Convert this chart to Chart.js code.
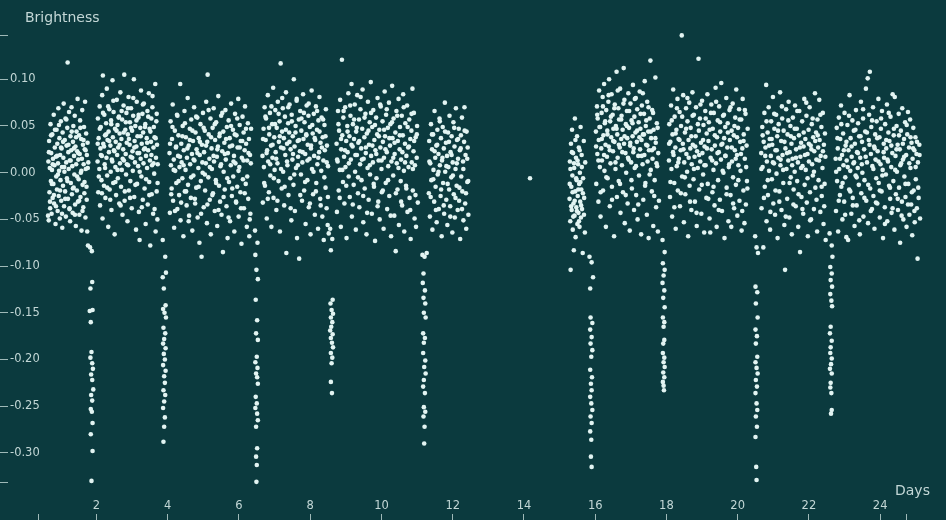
<!DOCTYPE html>
<html><head><meta charset="utf-8">
<script src="https://cdn.jsdelivr.net/npm/chart.js@4"></script>
<style>html,body{margin:0;padding:0;background:#0b3a3e;overflow:hidden}#wrap{width:946px;height:520px;position:relative}</style>
</head><body><div id="wrap"><canvas id="c"></canvas></div>
<script>
// ---- data: [day, brightness] ----
const seg1 = [[0.64,-0.046],[0.65,0.012],[0.66,-0.051],[0.67,0.034],[0.68,-0.021],[0.69,0.005],[0.70,-0.038],[0.71,0.052],[0.72,-0.009],[0.73,0.021],
[0.74,-0.044],[0.75,0.003],[0.76,0.041],[0.77,-0.027],[0.78,0.015],[0.79,-0.012],[0.80,0.062],[0.81,-0.033],[0.82,0.008],[0.83,0.027],
[0.85,-0.055],[0.86,0.017],[0.87,-0.004],[0.88,0.046],[0.89,-0.018],[0.90,0.031],[0.91,-0.041],[0.92,0.010],[0.93,0.069],[0.94,-0.025],
[0.95,0.002],[0.96,0.037],[0.97,-0.049],[0.98,0.019],[0.99,-0.008],[1.00,0.055],[1.01,-0.030],[1.02,0.026],[1.03,0.006],[1.04,-0.059],
[1.05,0.043],[1.06,-0.014],[1.07,0.016],[1.08,0.074],[1.09,-0.036],[1.10,0.001],[1.11,0.035],[1.12,-0.020],[1.13,0.058],[1.14,-0.047],
[1.15,0.011],[1.16,0.029],[1.17,-0.006],[1.18,0.048],[1.19,0.118],[1.20,-0.028],[1.21,0.022],[1.22,0.004],[1.23,0.065],[1.24,-0.039],
[1.25,0.013],[1.26,-0.052],[1.27,0.039],[1.28,-0.011],[1.29,0.024],[1.30,0.070],[1.31,-0.023],[1.32,0.007],[1.33,-0.043],[1.34,0.033],
[1.35,0.050],[1.36,-0.016],[1.37,0.018],[1.38,-0.002],[1.39,0.061],[1.40,-0.034],[1.41,0.028],[1.42,-0.057],[1.43,0.009],[1.44,0.044],
[1.45,-0.019],[1.46,0.023],[1.47,0.079],[1.48,-0.031],[1.49,0.014],[1.50,-0.007],[1.51,0.040],[1.52,-0.045],[1.53,0.020],[1.54,0.056],
[1.55,-0.026],[1.56,0.000],[1.57,0.036],[1.58,-0.062],[1.59,0.015],[1.60,0.067],[1.61,-0.013],[1.62,0.030],[1.63,-0.037],[1.64,0.009],
[1.65,0.049],[1.66,-0.022],[1.67,0.025],[1.68,0.076],[1.69,-0.048],[1.70,0.004],[1.71,0.042],[1.72,-0.015],[1.73,0.019],[1.74,-0.063],
[1.75,0.032],[1.76,-0.078],[1.77,0.011]];
const seg1b = [[0.665,0.022],[0.695,-0.031],[0.725,0.040],[0.748,-0.012],[0.772,0.009],[0.805,-0.024],[0.835,0.046],[0.862,-0.036],[0.894,0.018],[0.918,-0.002],
[0.947,0.051],[0.978,-0.019],[1.005,0.027],[1.033,-0.044],[1.062,0.033],[1.094,0.006],[1.122,-0.028],[1.155,0.057],[1.183,-0.009],[1.214,0.030],
[1.246,-0.038],[1.275,0.013],[1.305,0.044],[1.337,-0.017],[1.366,0.026],[1.395,-0.045],[1.428,0.038],[1.457,-0.004],[1.486,0.021],[1.515,-0.030],
[1.547,0.048],[1.576,0.002],[1.607,-0.041],[1.636,0.035],[1.664,-0.010],[1.695,0.024],[1.726,-0.029],[1.755,0.005]];
const dip1 = [[1.82,-0.080],[1.87,-0.084],[1.88,-0.117],[1.83,-0.124],[1.81,-0.148],[1.89,-0.147],[1.84,-0.160],[1.86,-0.192],[1.83,-0.198],[1.88,-0.204],
[1.90,-0.210],[1.85,-0.216],[1.88,-0.222],[1.91,-0.232],[1.85,-0.238],[1.88,-0.244],[1.84,-0.253],[1.87,-0.256],[1.89,-0.268],[1.84,-0.280],[1.89,-0.298],[1.86,-0.330]];
const seg2 = [[2.03,0.012],[2.04,0.058],[2.05,-0.021],[2.06,0.037],[2.08,0.004],[2.09,0.071],[2.10,-0.035],[2.11,0.026],[2.12,0.049],[2.14,-0.008],
[2.15,0.018],[2.16,0.083],[2.17,-0.049],[2.18,0.104],[2.19,0.031],[2.21,-0.014],[2.22,0.062],[2.23,0.009],[2.24,0.040],[2.25,-0.027],
[2.27,0.053],[2.28,0.016],[2.29,0.090],[2.30,-0.003],[2.31,0.035],[2.33,-0.058],[2.34,0.044],[2.35,0.022],[2.36,0.068],[2.37,-0.018],
[2.39,0.029],[2.40,0.001],[2.41,0.056],[2.42,-0.040],[2.43,0.014],[2.45,0.099],[2.46,0.038],[2.47,-0.011],[2.48,0.065],[2.49,0.024],
[2.51,-0.066],[2.52,0.047],[2.53,0.006],[2.54,0.033],[2.55,-0.024],[2.57,0.078],[2.58,0.019],[2.59,0.051],[2.60,-0.006],[2.61,0.027],
[2.63,0.060],[2.64,-0.033],[2.65,0.042],[2.66,0.010],[2.67,0.086],[2.69,-0.015],[2.70,0.036],[2.71,0.003],[2.72,0.057],[2.73,-0.045],
[2.75,0.025],[2.76,0.072],[2.77,0.013],[2.78,0.105],[2.79,-0.030],[2.81,0.046],[2.82,0.020],[2.83,-0.002],[2.84,0.064],[2.85,0.032],
[2.87,-0.052],[2.88,0.041],[2.89,0.008],[2.90,0.081],[2.91,-0.019],[2.93,0.030],[2.94,0.054],[2.95,-0.009],[2.96,0.017],[2.97,0.069],
[2.99,-0.038],[3.00,0.045],[3.01,0.023],[3.02,0.002],[3.03,0.061],[3.05,0.100],[3.06,-0.026],[3.07,0.034],[3.08,0.011],[3.09,0.050],
[3.11,-0.061],[3.12,0.028],[3.13,0.076],[3.14,-0.012],[3.15,0.039],[3.17,0.007],[3.18,0.059],[3.19,-0.042],[3.20,0.021],[3.21,-0.072],
[3.23,0.048],[3.24,0.015],[3.25,0.088],[3.26,-0.004],[3.27,0.031],[3.29,0.063],[3.30,-0.029],[3.31,0.043],[3.32,0.010],[3.33,0.074],
[3.35,-0.017],[3.36,0.026],[3.37,0.052],[3.38,-0.055],[3.39,0.018],[3.41,0.037],[3.42,0.005],[3.43,0.066],[3.44,-0.034],[3.45,0.024],
[3.47,0.085],[3.48,-0.010],[3.49,0.047],[3.50,0.013],[3.51,-0.078],[3.53,0.033],[3.54,0.058],[3.55,-0.023],[3.56,0.008],[3.57,0.070],
[3.59,-0.044],[3.60,0.027],[3.61,0.049],[3.62,-0.001],[3.63,0.038],[3.65,0.095],[3.66,-0.063],[3.67,0.016],[3.68,0.055],[3.69,-0.020],
[3.70,0.030],[3.71,-0.050],[3.72,0.009]];
const seg2b = [[2.035,0.031],[2.066,-0.004],[2.093,0.047],[2.125,0.019],[2.152,-0.022],[2.184,0.064],[2.213,0.028],[2.242,0.005],[2.271,0.041],[2.302,-0.016],
[2.328,0.071],[2.357,0.034],[2.386,-0.029],[2.415,0.052],[2.444,0.012],[2.473,0.077],[2.502,0.023],[2.531,-0.010],[2.563,0.045],[2.592,0.003],
[2.621,0.059],[2.648,0.030],[2.677,-0.035],[2.706,0.066],[2.735,0.015],[2.764,0.043],[2.795,-0.020],[2.824,0.054],[2.853,0.009],[2.882,0.069],
[2.911,0.036],[2.942,-0.027],[2.971,0.048],[3.004,0.016],[3.033,0.080],[3.062,0.027],[3.091,-0.013],[3.122,0.056],[3.153,0.021],[3.184,0.062],
[3.213,0.001],[3.242,0.039],[3.273,-0.037],[3.302,0.073],[3.333,0.025],[3.362,0.049],[3.393,-0.007],[3.422,0.032],[3.453,0.060],[3.482,-0.024],
[3.513,0.044],[3.542,0.019],[3.573,0.082],[3.602,0.010],[3.631,-0.039],[3.662,0.037],[3.691,0.063],[3.715,-0.011]];
const dip2 = [[3.86,-0.072],[3.93,-0.090],[3.95,-0.107],[3.86,-0.112],[3.89,-0.124],[3.94,-0.142],[3.87,-0.146],[3.91,-0.150],[3.95,-0.155],[3.88,-0.166],
[3.93,-0.172],[3.90,-0.178],[3.87,-0.183],[3.94,-0.188],[3.89,-0.194],[3.92,-0.200],[3.87,-0.206],[3.94,-0.212],[3.90,-0.218],[3.92,-0.225],
[3.88,-0.233],[3.93,-0.238],[3.90,-0.245],[3.87,-0.252],[3.92,-0.262],[3.90,-0.272],[3.88,-0.288]];
const seg3 = [[4.05,0.021],[4.06,-0.043],[4.08,0.055],[4.09,0.008],[4.11,-0.017],[4.12,0.036],[4.14,0.073],[4.15,-0.030],[4.17,0.014],[4.18,-0.059],
[4.20,0.045],[4.21,0.002],[4.23,0.027],[4.24,-0.011],[4.26,0.062],[4.27,-0.039],[4.29,0.018],[4.30,0.040],[4.32,-0.024],[4.33,0.006],
[4.35,0.095],[4.36,-0.051],[4.38,0.031],[4.39,0.011],[4.41,-0.006],[4.42,0.050],[4.44,-0.068],[4.45,0.024],[4.47,0.066],[4.48,-0.020],
[4.50,0.003],[4.51,0.038],[4.53,-0.035],[4.54,0.016],[4.56,0.080],[4.57,-0.013],[4.59,0.029],[4.60,-0.046],[4.62,0.047],[4.63,0.009],
[4.65,-0.027],[4.66,0.057],[4.68,0.020],[4.69,-0.062],[4.71,0.034],[4.72,-0.003],[4.74,0.070],[4.75,0.013],[4.77,-0.033],[4.78,0.043],
[4.80,-0.016],[4.81,0.025],[4.83,0.059],[4.84,-0.048],[4.86,0.005],[4.87,0.037],[4.89,-0.075],[4.90,0.019],[4.92,0.052],[4.93,-0.009],
[4.95,-0.090],[4.96,0.030],[4.98,0.000],[4.99,0.064],[5.01,-0.037],[5.02,0.022],[5.04,0.045],[5.05,-0.019],[5.07,0.010],[5.08,0.076],
[5.10,-0.054],[5.11,0.033],[5.12,0.105],[5.14,-0.005],[5.15,0.041],[5.17,0.015],[5.18,-0.029],[5.20,0.058],[5.21,-0.066],[5.23,0.026],
[5.24,0.004],[5.26,0.048],[5.27,-0.022],[5.29,0.069],[5.30,0.012],[5.32,-0.041],[5.33,0.035],[5.35,-0.008],[5.36,0.054],[5.38,0.017],
[5.39,-0.057],[5.41,0.028],[5.42,0.082],[5.44,-0.014],[5.45,0.039],[5.47,-0.031],[5.48,0.007],[5.50,0.061],[5.51,-0.045],[5.53,0.023],
[5.55,-0.085],[5.56,0.044],[5.57,0.001],[5.59,0.032],[5.60,-0.018],[5.62,0.067],[5.63,0.014],[5.65,-0.036],[5.66,0.049],[5.68,-0.070],
[5.69,0.021],[5.71,0.056],[5.72,-0.010],[5.74,0.037],[5.75,-0.052],[5.77,0.008],[5.78,0.074],[5.80,-0.025],[5.81,0.029],[5.83,0.046],
[5.84,-0.004],[5.86,0.018],[5.87,-0.063],[5.89,0.063],[5.90,0.010],[5.92,-0.032],[5.93,0.040],[5.95,-0.015],[5.96,0.027],[5.98,0.079],
[5.99,-0.047],[6.01,0.006],[6.02,0.051],[6.04,-0.021],[6.05,0.034],[6.07,-0.076],[6.08,0.016],[6.10,0.060],[6.11,-0.007],[6.13,0.043],
[6.14,-0.038],[6.16,0.024],[6.17,0.071],[6.19,-0.012],[6.20,0.031],[6.22,-0.058],[6.23,0.013],[6.25,0.053],[6.26,-0.028],[6.28,0.036],
[6.29,-0.068],[6.31,0.019],[6.32,-0.044],[6.34,0.047]];
const seg3b = [[4.065,0.031],[4.098,-0.023],[4.133,0.049],[4.167,0.003],[4.203,-0.041],[4.236,0.028],[4.272,0.061],[4.305,-0.009],[4.343,0.017],[4.377,-0.032],
[4.412,0.039],[4.446,0.008],[4.483,0.053],[4.517,-0.020],[4.552,0.026],[4.588,-0.052],[4.622,0.035],[4.657,-0.005],[4.693,0.045],[4.727,0.014],
[4.762,-0.028],[4.798,0.060],[4.833,0.021],[4.867,-0.015],[4.903,0.033],[4.937,-0.044],[4.972,0.011],[5.008,0.048],[5.043,-0.002],[5.077,0.029],
[5.113,-0.034],[5.147,0.067],[5.182,0.006],[5.218,0.038],[5.253,-0.024],[5.287,0.018],[5.322,0.052],[5.358,-0.011],[5.393,0.025],[5.427,-0.040],
[5.463,0.042],[5.497,0.009],[5.532,0.064],[5.568,-0.026],[5.603,0.020],[5.637,0.036],[5.672,-0.006],[5.708,-0.048],[5.743,0.028],[5.777,0.050],
[5.812,-0.017],[5.847,0.012],[5.882,0.041],[5.917,-0.031],[5.952,0.058],[5.987,0.002],[6.022,0.027],[6.057,-0.038],[6.092,0.034],[6.127,0.013],
[6.162,-0.022],[6.197,0.047],[6.232,-0.004],[6.267,0.021],[6.302,-0.050],[6.333,0.010]];
const dip3 = [[6.45,-0.062],[6.52,-0.075],[6.46,-0.088],[6.49,-0.104],[6.53,-0.114],[6.47,-0.136],[6.51,-0.158],[6.48,-0.172],[6.53,-0.179],[6.50,-0.197],
[6.46,-0.203],[6.52,-0.209],[6.48,-0.215],[6.51,-0.219],[6.53,-0.226],[6.47,-0.240],[6.50,-0.247],[6.46,-0.252],[6.51,-0.258],[6.53,-0.265],
[6.48,-0.272],[6.51,-0.295],[6.48,-0.304],[6.50,-0.313],[6.49,-0.331]];
const seg4 = [[6.66,0.018],[6.67,-0.032],[6.69,0.047],[6.70,0.006],[6.72,0.070],[6.73,-0.014],[6.75,0.035],[6.76,0.058],[6.78,-0.049],[6.79,0.024],
[6.81,0.083],[6.82,0.012],[6.84,-0.021],[6.85,0.041],[6.87,0.064],[6.88,-0.003],[6.90,0.029],[6.91,-0.058],[6.93,0.052],[6.94,0.016],
[6.96,0.091],[6.97,-0.027],[6.99,0.038],[7.00,0.003],[7.02,0.067],[7.03,0.022],[7.05,-0.040],[7.06,0.048],[7.08,0.010],[7.09,0.076],
[7.11,-0.009],[7.12,0.033],[7.14,0.055],[7.15,-0.063],[7.17,0.117],[7.18,0.027],[7.20,-0.017],[7.21,0.044],[7.23,0.069],[7.24,0.001],
[7.26,0.037],[7.27,-0.035],[7.29,0.060],[7.30,0.019],[7.32,0.086],[7.33,-0.086],[7.35,0.031],[7.36,0.008],[7.38,0.053],[7.39,-0.024],
[7.41,0.043],[7.42,0.073],[7.44,-0.006],[7.45,0.025],[7.47,-0.051],[7.48,0.062],[7.50,0.014],[7.51,0.039],[7.53,-0.013],[7.54,0.100],
[7.56,0.028],[7.57,-0.041],[7.59,0.050],[7.60,0.005],[7.62,0.079],[7.63,-0.070],[7.65,0.034],[7.66,0.017],[7.68,0.057],[7.69,-0.092],
[7.71,0.023],[7.72,0.066],[7.74,-0.002],[7.75,0.045],[7.77,-0.030],[7.78,0.011],[7.80,0.084],[7.81,0.036],[7.83,-0.019],[7.84,0.054],
[7.86,0.020],[7.87,-0.055],[7.89,0.040],[7.90,0.072],[7.92,-0.008],[7.93,0.030],[7.95,0.061],[7.96,-0.037],[7.98,0.015],[7.99,0.049],
[8.01,-0.066],[8.02,0.026],[8.04,0.088],[8.05,0.004],[8.07,0.042],[8.08,-0.023],[8.10,0.063],[8.11,0.018],[8.13,-0.045],[8.14,0.035],
[8.16,0.071],[8.17,-0.011],[8.19,0.046],[8.20,0.009],[8.22,-0.060],[8.23,0.056],[8.25,0.022],[8.26,0.081],[8.28,-0.028],[8.29,0.032],
[8.31,0.002],[8.32,0.059],[8.34,-0.047],[8.35,0.038],[8.37,0.013],[8.38,-0.072],[8.40,0.051],[8.41,0.024],[8.43,-0.016],[8.44,0.068],
[8.46,-0.038],[8.47,0.029],[8.49,-0.056],[8.50,0.007],[8.52,-0.065]];
const seg4b = [[6.675,0.036],[6.708,-0.011],[6.742,0.060],[6.776,0.021],[6.809,-0.028],[6.843,0.048],[6.877,0.009],[6.911,0.071],[6.944,0.030],[6.978,-0.006],
[7.012,0.052],[7.046,0.015],[7.079,-0.030],[7.113,0.063],[7.147,0.039],[7.181,0.004],[7.214,0.080],[7.248,0.026],[7.282,-0.015],[7.316,0.046],
[7.349,0.012],[7.383,0.070],[7.417,0.033],[7.451,-0.038],[7.484,0.055],[7.518,0.020],[7.552,-0.002],[7.586,0.043],[7.619,0.077],[7.653,0.008],
[7.687,0.035],[7.721,-0.024],[7.754,0.058],[7.788,0.022],[7.822,0.064],[7.856,-0.010],[7.889,0.041],[7.923,0.013],[7.957,0.074],[7.991,-0.033],
[8.024,0.029],[8.058,0.051],[8.092,0.001],[8.126,0.037],[8.159,-0.020],[8.193,0.066],[8.227,0.016],[8.261,0.044],[8.294,-0.035],[8.328,0.027],
[8.362,0.057],[8.396,-0.005],[8.429,0.039],[8.463,0.011],[8.497,-0.026]];
const dip4 = [[8.56,-0.060],[8.62,-0.071],[8.58,-0.083],[8.63,-0.136],[8.57,-0.140],[8.60,-0.147],[8.64,-0.151],[8.58,-0.155],[8.62,-0.160],[8.59,-0.165],
[8.56,-0.169],[8.63,-0.173],[8.58,-0.177],[8.61,-0.182],[8.64,-0.187],[8.58,-0.193],[8.62,-0.198],[8.60,-0.204],[8.58,-0.224],[8.61,-0.236]];
const seg5 = [[8.74,0.031],[8.75,-0.042],[8.77,0.012],[8.78,0.066],[8.80,-0.019],[8.81,0.045],[8.83,0.003],[8.84,0.078],[8.86,-0.058],[8.87,0.025],
[8.89,0.121],[8.90,0.040],[8.92,-0.010],[8.93,0.059],[8.95,0.017],[8.96,-0.033],[8.98,0.070],[8.99,0.006],[9.01,0.034],[9.02,-0.070],
[9.04,0.050],[9.05,0.022],[9.07,0.085],[9.08,-0.004],[9.10,0.039],[9.11,-0.026],[9.13,0.061],[9.14,0.014],[9.16,0.095],[9.17,-0.047],
[9.19,0.028],[9.20,0.052],[9.22,-0.013],[9.23,0.036],[9.25,0.073],[9.26,0.001],[9.28,-0.061],[9.29,0.044],[9.31,0.019],[9.32,0.083],
[9.34,-0.022],[9.35,0.032],[9.37,0.057],[9.38,-0.037],[9.40,0.009],[9.41,0.068],[9.43,0.026],[9.44,-0.008],[9.46,0.047],[9.47,0.089],
[9.49,-0.053],[9.50,0.015],[9.52,0.038],[9.53,-0.017],[9.55,0.063],[9.56,0.021],[9.58,-0.066],[9.59,0.042],[9.61,0.005],[9.62,0.076],
[9.64,-0.029],[9.65,0.030],[9.67,0.054],[9.68,-0.002],[9.70,0.097],[9.71,0.018],[9.73,-0.044],[9.74,0.049],[9.76,0.011],[9.77,0.067],
[9.79,-0.015],[9.80,0.035],[9.82,-0.073],[9.83,0.024],[9.85,0.059],[9.86,-0.006],[9.88,0.041],[9.89,0.080],[9.91,-0.031],[9.92,0.013],
[9.94,0.046],[9.95,-0.050],[9.97,0.027],[9.98,0.071],[10.00,0.004],[10.01,-0.021],[10.03,0.055],[10.04,0.033],[10.06,-0.060],[10.07,0.016],
[10.09,0.087],[10.10,0.039],[10.12,-0.011],[10.13,0.062],[10.15,0.022],[10.16,-0.039],[10.18,0.048],[10.19,0.007],[10.21,0.075],[10.22,-0.025],
[10.24,0.029],[10.25,0.052],[10.27,-0.068],[10.28,0.012],[10.30,0.093],[10.31,0.037],[10.33,-0.003],[10.34,0.058],[10.36,-0.046],[10.37,0.020],
[10.39,0.043],[10.40,-0.084],[10.42,0.066],[10.43,0.010],[10.45,-0.018],[10.46,0.034],[10.48,0.079],[10.49,-0.056],[10.51,0.025],[10.52,0.049],
[10.54,-0.009],[10.55,0.014],[10.57,0.061],[10.58,-0.035],[10.60,0.040],[10.61,0.084],[10.63,0.002],[10.64,-0.063],[10.66,0.031],[10.67,0.053],
[10.69,-0.014],[10.70,0.018],[10.72,0.072],[10.73,-0.042],[10.75,0.027],[10.76,0.006],[10.78,0.057],[10.79,-0.027],[10.81,0.036],[10.82,-0.071],
[10.84,0.045],[10.85,0.011],[10.87,0.090],[10.88,-0.019],[10.90,0.023],[10.91,0.064],[10.93,-0.049],[10.94,0.008],[10.96,0.038],[10.97,-0.058],
[10.99,0.016],[11.00,0.050],[11.02,-0.032]];
const seg5b = [[8.755,0.014],[8.792,0.052],[8.828,-0.027],[8.865,0.036],[8.902,0.003],[8.938,0.066],[8.975,0.024],[9.012,-0.014],[9.048,0.044],[9.085,0.010],
[9.122,0.072],[9.158,0.030],[9.195,-0.034],[9.232,0.057],[9.268,0.019],[9.305,0.048],[9.342,-0.005],[9.378,0.034],[9.415,0.081],[9.452,0.014],
[9.488,-0.025],[9.525,0.059],[9.562,0.027],[9.598,-0.043],[9.635,0.045],[9.672,0.008],[9.708,0.064],[9.745,0.029],[9.782,-0.012],[9.818,0.051],
[9.855,0.020],[9.892,-0.036],[9.928,0.039],[9.965,0.073],[10.002,0.013],[10.038,-0.019],[10.075,0.046],[10.112,0.025],[10.148,0.068],[10.185,-0.008],
[10.222,0.037],[10.258,-0.046],[10.295,0.054],[10.332,0.016],[10.368,0.032],[10.405,-0.022],[10.442,0.061],[10.478,0.005],[10.515,0.040],[10.552,-0.031],
[10.588,0.022],[10.625,0.070],[10.662,0.011],[10.698,-0.017],[10.735,0.049],[10.772,0.028],[10.808,-0.040],[10.845,0.063],[10.882,0.004],[10.918,0.034],
[10.955,-0.024],[10.992,0.041]];
const dip5 = [[11.15,-0.088],[11.21,-0.090],[11.27,-0.086],[11.18,-0.108],[11.16,-0.118],[11.22,-0.126],[11.18,-0.134],[11.23,-0.140],[11.19,-0.150],[11.24,-0.155],
[11.17,-0.172],[11.22,-0.177],[11.19,-0.182],[11.17,-0.193],[11.23,-0.201],[11.20,-0.208],[11.24,-0.215],[11.19,-0.222],[11.17,-0.229],[11.22,-0.236],
[11.19,-0.251],[11.23,-0.256],[11.18,-0.261],[11.21,-0.272],[11.20,-0.290]];
const seg6 = [[11.33,-0.022],[11.34,0.034],[11.36,-0.047],[11.37,0.010],[11.39,0.052],[11.40,-0.008],[11.42,0.025],[11.43,-0.061],[11.45,0.041],[11.46,0.003],
[11.48,-0.031],[11.49,0.066],[11.51,0.016],[11.52,-0.015],[11.54,0.029],[11.55,-0.053],[11.57,0.046],[11.58,-0.002],[11.60,0.020],[11.61,-0.039],
[11.63,0.058],[11.64,0.008],[11.66,-0.025],[11.67,0.037],[11.69,-0.068],[11.70,0.013],[11.72,0.049],[11.73,-0.011],[11.75,0.026],[11.76,-0.044],
[11.78,0.075],[11.79,0.001],[11.81,0.032],[11.82,-0.029],[11.84,0.018],[11.85,-0.056],[11.87,0.043],[11.88,0.006],[11.90,-0.018],[11.91,0.061],
[11.93,-0.036],[11.94,0.022],[11.96,-0.005],[11.97,0.039],[11.99,-0.064],[12.00,0.011],[12.02,0.054],[12.03,-0.023],[12.05,0.028],[12.06,-0.048],
[12.08,0.004],[12.09,0.069],[12.11,-0.014],[12.12,0.035],[12.14,-0.040],[12.15,0.015],[12.17,0.047],[12.18,-0.030],[12.20,0.024],[12.21,-0.071],
[12.23,0.040],[12.24,-0.004],[12.26,0.059],[12.27,-0.020],[12.29,0.012],[12.30,-0.051],[12.32,0.033],[12.33,0.070],[12.35,-0.033],[12.36,0.019],
[12.38,-0.060],[12.39,0.044],[12.41,-0.010],[12.42,0.027],[12.44,-0.045]];
const seg6b = [[11.345,0.012],[11.382,-0.026],[11.418,0.041],[11.455,-0.007],[11.492,0.023],[11.528,-0.040],[11.565,0.030],[11.602,0.001],[11.638,0.055],[11.675,-0.018],
[11.712,0.016],[11.748,-0.035],[11.785,0.044],[11.822,0.007],[11.858,-0.012],[11.895,0.033],[11.932,-0.047],[11.968,0.019],[12.005,-0.003],[12.042,0.048],
[12.078,-0.027],[12.115,0.010],[12.152,0.036],[12.188,-0.016],[12.225,0.026],[12.262,-0.039],[12.298,0.004],[12.335,0.045],[12.372,-0.022],[12.408,0.015],[12.435,-0.009]];
const lone = [[14.17,-0.006]];
const seg7 = [[15.28,-0.028],[15.29,0.012],[15.30,-0.052],[15.31,-0.104],[15.32,0.031],[15.33,-0.015],[15.34,-0.040],[15.35,0.046],[15.36,-0.003],[15.37,-0.061],
[15.38,0.021],[15.39,-0.033],[15.40,-0.083],[15.41,0.005],[15.42,-0.046],[15.43,0.058],[15.44,-0.020],[15.45,-0.069],[15.46,0.016],[15.47,-0.037],
[15.48,-0.008],[15.49,0.039],[15.50,-0.055],[15.51,-0.025],[15.52,0.009],[15.53,-0.043],[15.54,0.027],[15.55,-0.012],[15.56,-0.058],[15.57,0.000],
[15.58,-0.031],[15.59,0.049],[15.60,-0.048],[15.61,-0.018],[15.62,0.019],[15.63,-0.039],[15.65,-0.086],[15.66,-0.006],[15.68,0.034],[15.69,-0.027],
[15.71,-0.064],[15.72,0.011]];
const seg7b = [[15.285,-0.012],[15.305,0.004],[15.325,-0.036],[15.345,0.022],[15.365,-0.021],[15.385,-0.047],[15.405,0.010],[15.425,-0.030],[15.445,0.035],[15.465,-0.006],
[15.485,-0.041],[15.505,0.013],[15.525,-0.018],[15.545,-0.052],[15.565,0.024],[15.585,-0.010],[15.605,-0.035],[15.625,0.006],[15.655,-0.022],[15.685,-0.045]];
const dip6 = [[15.84,-0.090],[15.90,-0.096],[15.94,-0.112],[15.86,-0.124],[15.87,-0.155],[15.92,-0.161],[15.86,-0.168],[15.90,-0.176],[15.87,-0.183],[15.92,-0.190],
[15.89,-0.197],[15.86,-0.211],[15.91,-0.219],[15.88,-0.226],[15.90,-0.233],[15.86,-0.240],[15.89,-0.247],[15.92,-0.254],[15.87,-0.261],[15.90,-0.268],
[15.86,-0.277],[15.89,-0.286],[15.88,-0.304],[15.90,-0.315]];
const seg8 = [[16.02,0.044],[16.03,-0.012],[16.05,0.071],[16.06,0.020],[16.07,0.058],[16.09,-0.031],[16.10,0.035],[16.11,0.088],[16.13,0.006],[16.14,0.049],
[16.15,-0.047],[16.17,0.026],[16.18,0.064],[16.19,0.013],[16.21,0.081],[16.22,-0.019],[16.23,0.040],[16.25,0.095],[16.26,0.002],[16.27,0.053],
[16.29,0.030],[16.30,-0.058],[16.31,0.067],[16.33,0.017],[16.34,0.045],[16.35,-0.006],[16.37,0.076],[16.38,0.028],[16.39,0.100],[16.41,-0.036],
[16.42,0.055],[16.43,0.010],[16.45,0.038],[16.46,0.084],[16.47,-0.015],[16.49,0.062],[16.50,0.023],[16.51,0.047],[16.53,-0.068],[16.54,0.033],
[16.55,0.073],[16.57,0.004],[16.58,0.050],[16.60,0.108],[16.61,-0.026],[16.62,0.041],[16.63,0.016],[16.65,0.069],[16.66,-0.009],[16.67,0.057],
[16.69,0.027],[16.70,0.090],[16.71,-0.043],[16.73,0.036],[16.74,0.061],[16.75,0.008],[16.77,0.046],[16.78,-0.021],[16.80,0.112],[16.81,0.031],
[16.82,0.078],[16.83,-0.054],[16.85,0.021],[16.86,0.052],[16.87,0.000],[16.89,0.066],[16.90,0.037],[16.91,-0.033],[16.93,0.085],[16.94,0.014],
[16.95,0.048],[16.97,-0.062],[16.98,0.029],[16.99,0.074],[17.01,0.011],[17.02,0.056],[17.03,-0.017],[17.05,0.039],[17.06,0.094],[17.07,0.022],
[17.09,-0.040],[17.10,0.060],[17.11,0.005],[17.13,0.043],[17.14,0.080],[17.15,-0.024],[17.17,0.033],[17.18,0.068],[17.19,-0.050],[17.21,0.018],
[17.22,0.054],[17.23,-0.003],[17.25,0.087],[17.26,0.025],[17.27,0.047],[17.29,-0.066],[17.30,0.035],[17.31,0.072],[17.33,0.009],[17.34,0.041],
[17.35,-0.029],[17.37,0.063],[17.38,0.019],[17.39,0.098],[17.41,-0.011],[17.42,0.050],[17.43,0.030],[17.45,-0.045],[17.46,0.076],[17.47,0.012],
[17.49,0.044],[17.50,-0.070],[17.51,0.024],[17.53,0.058],[17.55,0.120],[17.56,0.003],[17.57,0.037],[17.59,-0.020],[17.60,0.067],[17.61,0.015],
[17.63,-0.057],[17.64,0.046],[17.65,0.026],[17.67,-0.008],[17.69,0.102],[17.70,0.032],[17.71,-0.037],[17.73,0.053],[17.74,0.007],[17.76,-0.063],
[17.77,0.021],[17.79,-0.030]];
const seg8b = [[16.025,0.028],[16.057,0.062],[16.089,0.013],[16.121,0.049],[16.153,-0.021],[16.185,0.036],[16.217,0.071],[16.249,0.019],[16.281,0.055],[16.313,-0.005],
[16.345,0.041],[16.377,0.083],[16.409,0.024],[16.441,0.060],[16.473,-0.029],[16.505,0.034],[16.537,0.069],[16.569,0.011],[16.601,0.047],[16.633,0.088],
[16.665,0.030],[16.697,-0.012],[16.729,0.057],[16.761,0.022],[16.793,0.074],[16.825,0.039],[16.857,-0.024],[16.889,0.050],[16.921,0.016],[16.953,0.066],
[16.985,0.032],[17.017,-0.008],[17.049,0.053],[17.081,0.026],[17.113,0.079],[17.145,0.007],[17.177,0.045],[17.209,-0.034],[17.241,0.038],[17.273,0.063],
[17.305,0.018],[17.337,0.085],[17.369,0.041],[17.401,-0.014],[17.433,0.056],[17.465,0.029],[17.497,0.070],[17.529,-0.002],[17.561,0.044],[17.593,0.024],
[17.625,0.064],[17.657,-0.025],[17.689,0.037],[17.721,0.010],[17.753,0.048]];
const dip7 = [[17.89,-0.072],[17.95,-0.085],[17.90,-0.097],[17.95,-0.104],[17.92,-0.110],[17.89,-0.118],[17.94,-0.126],[17.91,-0.134],[17.95,-0.144],[17.90,-0.155],
[17.94,-0.160],[17.92,-0.165],[17.94,-0.179],[17.91,-0.183],[17.90,-0.193],[17.94,-0.198],[17.92,-0.203],[17.95,-0.208],[17.91,-0.214],[17.94,-0.219],
[17.90,-0.224],[17.92,-0.228],[17.93,-0.233]];
const seg9 = [[18.07,0.013],[18.08,0.052],[18.10,-0.026],[18.11,0.033],[18.13,0.072],[18.14,0.004],[18.16,-0.047],[18.17,0.041],[18.19,0.089],[18.20,0.019],
[18.22,-0.011],[18.23,0.060],[18.25,0.027],[18.26,-0.060],[18.28,0.046],[18.29,0.007],[18.31,0.079],[18.32,-0.019],[18.34,0.036],[18.35,0.015],
[18.37,0.065],[18.38,-0.036],[18.40,0.024],[18.41,0.050],[18.43,0.147],[18.44,-0.004],[18.46,0.031],[18.47,0.083],[18.49,-0.053],[18.50,0.011],
[18.52,0.043],[18.53,-0.023],[18.55,0.069],[18.56,0.020],[18.58,0.001],[18.59,0.055],[18.61,-0.068],[18.62,0.035],[18.64,0.075],[18.65,-0.014],
[18.67,0.026],[18.68,0.048],[18.70,-0.040],[18.71,0.009],[18.73,0.086],[18.74,0.030],[18.76,-0.007],[18.77,0.062],[18.79,0.017],[18.80,-0.031],
[18.82,0.039],[18.83,0.070],[18.85,-0.057],[18.86,0.023],[18.88,0.005],[18.90,0.122],[18.91,0.045],[18.92,-0.018],[18.94,0.058],[18.95,0.012],
[18.97,0.032],[18.98,-0.044],[19.00,0.077],[19.01,0.021],[19.03,-0.002],[19.04,0.051],[19.06,-0.064],[19.07,0.028],[19.09,0.066],[19.10,0.008],
[19.12,-0.027],[19.13,0.042],[19.15,0.084],[19.16,-0.012],[19.18,0.034],[19.19,0.054],[19.21,-0.049],[19.23,-0.064],[19.24,0.016],[19.26,0.073],
[19.27,0.025],[19.29,-0.021],[19.30,0.047],[19.32,0.003],[19.33,0.064],[19.35,-0.035],[19.36,0.029],[19.38,0.091],[19.39,0.010],[19.41,-0.058],
[19.42,0.038],[19.44,0.056],[19.45,-0.008],[19.47,0.022],[19.48,0.071],[19.50,-0.029],[19.51,0.044],[19.53,0.014],[19.54,0.096],[19.56,-0.041],
[19.57,0.031],[19.59,0.061],[19.60,0.000],[19.62,0.037],[19.63,-0.070],[19.65,0.049],[19.66,0.018],[19.68,0.080],[19.69,-0.016],[19.71,0.027],
[19.72,0.053],[19.74,-0.052],[19.75,0.006],[19.77,0.067],[19.78,0.035],[19.80,-0.024],[19.82,-0.058],[19.83,0.045],[19.84,0.012],[19.86,0.074],
[19.87,-0.005],[19.89,0.040],[19.90,-0.038],[19.92,0.024],[19.93,0.059],[19.95,-0.013],[19.96,0.089],[19.98,0.019],[19.99,-0.046],[20.01,0.048],
[20.02,0.008],[20.04,0.068],[20.05,-0.030],[20.07,0.033],[20.08,0.002],[20.10,0.057],[20.11,-0.062],[20.13,0.026],[20.14,0.079],[20.16,-0.019],
[20.17,0.041],[20.19,-0.054],[20.20,0.015],[20.22,0.063],[20.23,-0.034],[20.25,0.029],[20.26,-0.009],[20.28,0.047]];
const seg9b = [[18.075,0.031],[18.112,-0.010],[18.148,0.056],[18.185,0.022],[18.222,-0.037],[18.258,0.042],[18.295,0.069],[18.332,0.011],[18.368,0.035],[18.405,-0.022],
[18.442,0.060],[18.478,0.025],[18.515,-0.005],[18.552,0.047],[18.588,0.080],[18.625,0.016],[18.662,-0.031],[18.698,0.039],[18.735,0.061],[18.772,0.004],
[18.808,0.028],[18.845,-0.043],[18.882,0.052],[18.918,0.019],[18.955,0.073],[18.992,-0.013],[19.028,0.035],[19.065,0.008],[19.102,0.058],[19.138,0.026],
[19.175,-0.028],[19.212,0.046],[19.248,0.064],[19.285,0.013],[19.322,-0.015],[19.358,0.040],[19.395,0.076],[19.432,0.021],[19.468,-0.040],[19.505,0.054],
[19.542,0.030],[19.578,0.002],[19.615,0.062],[19.652,0.018],[19.688,-0.023],[19.725,0.043],[19.762,0.009],[19.798,0.070],[19.835,0.027],[19.872,-0.033],
[19.908,0.050],[19.945,0.015],[19.982,0.038],[20.018,-0.008],[20.055,0.057],[20.092,0.020],[20.128,-0.041],[20.165,0.034],[20.202,0.067],[20.238,0.006],[20.272,-0.017]];
const dip8 = [[20.49,-0.068],[20.53,-0.080],[20.57,-0.086],[20.50,-0.122],[20.55,-0.128],[20.51,-0.140],[20.56,-0.155],[20.50,-0.168],[20.54,-0.175],[20.51,-0.183],
[20.55,-0.197],[20.50,-0.203],[20.53,-0.209],[20.56,-0.215],[20.51,-0.222],[20.54,-0.229],[20.50,-0.236],[20.53,-0.247],[20.55,-0.254],[20.51,-0.261],
[20.54,-0.272],[20.50,-0.283],[20.52,-0.315],[20.53,-0.329]];
const seg10 = [[20.66,0.021],[20.67,-0.038],[20.69,0.049],[20.70,0.006],[20.72,-0.080],[20.73,0.033],[20.75,0.064],[20.76,-0.015],[20.78,0.027],[20.80,0.094],
[20.81,-0.052],[20.82,0.012],[20.84,0.043],[20.85,-0.024],[20.87,0.070],[20.88,0.002],[20.90,0.036],[20.91,-0.061],[20.93,0.018],[20.94,0.055],
[20.96,-0.007],[20.97,0.030],[20.99,0.081],[21.00,-0.033],[21.02,0.010],[21.03,0.047],[21.05,-0.045],[21.06,0.024],[21.08,0.062],[21.09,-0.001],
[21.11,0.039],[21.12,-0.070],[21.14,0.016],[21.15,0.052],[21.17,-0.020],[21.19,0.086],[21.20,0.008],[21.22,0.034],[21.23,-0.040],[21.25,0.058],
[21.26,0.019],[21.28,-0.011],[21.29,0.045],[21.31,-0.056],[21.33,-0.104],[21.34,0.026],[21.36,0.068],[21.37,0.004],[21.39,-0.028],[21.40,0.041],
[21.42,0.013],[21.43,0.076],[21.45,-0.048],[21.46,0.022],[21.48,0.050],[21.49,-0.005],[21.51,0.031],[21.52,-0.066],[21.54,0.015],[21.55,0.059],
[21.57,-0.018],[21.58,0.037],[21.60,0.001],[21.61,0.072],[21.63,-0.036],[21.64,0.025],[21.66,0.047],[21.67,-0.009],[21.69,0.011],[21.70,-0.058],
[21.72,0.040],[21.73,0.066],[21.75,-0.085],[21.76,0.017],[21.78,0.032],[21.79,-0.026],[21.81,0.055],[21.82,0.007],[21.84,-0.044],[21.85,0.028],
[21.87,0.079],[21.88,-0.013],[21.90,0.036],[21.91,0.003],[21.93,0.061],[21.94,-0.032],[21.96,0.020],[21.97,-0.068],[21.99,0.046],[22.00,0.012],
[22.02,0.070],[22.03,-0.021],[22.05,0.029],[22.06,-0.050],[22.08,0.052],[22.09,0.009],[22.11,-0.003],[22.12,0.038],[22.14,-0.039],[22.15,0.023],
[22.17,0.085],[22.18,-0.016],[22.20,0.043],[22.21,0.014],[22.23,-0.063],[22.24,0.057],[22.26,0.027],[22.27,-0.008],[22.29,0.078],[22.30,0.035],
[22.32,-0.042],[22.33,0.018],[22.35,0.049],[22.36,-0.025],[22.38,0.005],[22.39,0.064],[22.41,-0.055],[22.42,0.030],[22.44,-0.012],[22.45,0.042],
[22.47,-0.072]];
const seg10b = [[20.665,0.004],[20.701,0.040],[20.737,-0.027],[20.773,0.018],[20.809,0.055],[20.845,-0.008],[20.881,0.029],[20.917,-0.042],[20.953,0.036],[20.989,0.011],
[21.025,0.063],[21.061,-0.019],[21.097,0.024],[21.133,0.045],[21.169,-0.031],[21.205,0.014],[21.241,0.071],[21.277,0.003],[21.313,0.033],[21.349,-0.047],
[21.385,0.021],[21.421,0.056],[21.457,-0.011],[21.493,0.039],[21.529,0.008],[21.565,-0.034],[21.601,0.047],[21.637,0.016],[21.673,0.066],[21.709,-0.023],
[21.745,0.027],[21.781,0.005],[21.817,-0.039],[21.853,0.043],[21.889,0.019],[21.925,0.075],[21.961,-0.006],[21.997,0.031],[22.033,-0.051],[22.069,0.025],
[22.105,0.058],[22.141,0.001],[22.177,0.034],[22.213,-0.029],[22.249,0.040],[22.285,0.013],[22.321,0.062],[22.357,-0.015],[22.393,0.023],[22.429,-0.036],[22.462,0.017]];
const dip9 = [[22.58,-0.065],[22.64,-0.078],[22.66,-0.090],[22.60,-0.101],[22.64,-0.108],[22.61,-0.115],[22.65,-0.122],[22.60,-0.130],[22.63,-0.137],[22.65,-0.143],
[22.61,-0.165],[22.59,-0.172],[22.64,-0.180],[22.61,-0.187],[22.60,-0.193],[22.64,-0.199],[22.62,-0.205],[22.59,-0.210],[22.64,-0.215],[22.61,-0.225],
[22.60,-0.230],[22.63,-0.236],[22.64,-0.254],[22.62,-0.258]];
const seg11 = [[22.75,0.015],[22.76,-0.041],[22.78,0.048],[22.79,-0.009],[22.81,0.026],[22.82,-0.063],[22.84,0.059],[22.85,0.004],[22.87,-0.024],[22.88,0.036],
[22.90,0.072],[22.91,-0.015],[22.93,0.019],[22.94,-0.050],[22.96,0.042],[22.97,0.008],[22.99,-0.031],[23.00,0.064],[23.02,-0.005],[23.03,0.029],
[23.05,-0.069],[23.06,0.013],[23.08,0.051],[23.10,-0.072],[23.11,0.024],[23.13,-0.018],[23.14,0.083],[23.16,0.002],[23.17,0.037],[23.19,-0.044],
[23.20,0.017],[23.22,0.056],[23.23,-0.027],[23.25,0.010],[23.26,0.045],[23.28,-0.057],[23.29,0.031],[23.31,-0.003],[23.32,0.067],[23.34,-0.035],
[23.35,0.022],[23.37,0.005],[23.38,0.053],[23.40,-0.013],[23.41,0.039],[23.43,-0.066],[23.44,0.016],[23.46,0.076],[23.47,-0.022],[23.49,0.033],
[23.50,0.000],[23.52,0.058],[23.53,-0.047],[23.55,0.025],[23.56,-0.008],[23.58,0.044],[23.60,0.090],[23.61,-0.030],[23.63,0.011],[23.65,0.101],
[23.66,-0.054],[23.68,0.035],[23.69,0.062],[23.71,0.108],[23.72,-0.017],[23.74,0.020],[23.75,0.049],[23.77,-0.039],[23.78,0.007],[23.80,0.070],
[23.81,-0.025],[23.83,0.028],[23.84,-0.060],[23.86,0.041],[23.87,0.014],[23.89,-0.006],[23.90,0.055],[23.92,-0.033],[23.93,0.023],[23.95,0.079],
[23.96,-0.011],[23.98,0.038],[23.99,-0.048],[24.01,0.009],[24.02,0.047],[24.04,-0.020],[24.05,0.066],[24.07,0.003],[24.08,-0.070],[24.10,0.031],
[24.11,0.016],[24.13,-0.037],[24.14,0.052],[24.16,-0.002],[24.17,0.026],[24.19,0.073],[24.20,-0.052],[24.22,0.012],[24.23,0.043],[24.25,-0.014],
[24.26,0.034],[24.28,-0.028],[24.29,0.060],[24.31,0.006],[24.32,-0.043],[24.34,0.021],[24.35,0.084],[24.37,-0.009],[24.38,0.040],[24.40,-0.061],
[24.41,0.081],[24.43,0.018],[24.44,-0.023],[24.46,0.050],[24.47,0.001],[24.49,0.030],[24.50,-0.040],[24.52,0.063],[24.53,-0.016],[24.55,0.025],
[24.56,-0.075],[24.58,0.045],[24.59,0.010],[24.61,-0.031],[24.62,0.069],[24.64,0.014],[24.65,-0.050],[24.67,0.036],[24.68,-0.004],[24.70,0.054],
[24.71,-0.026],[24.73,0.019],[24.74,-0.058],[24.76,0.041],[24.78,0.065],[24.79,-0.012],[24.81,0.027],[24.82,-0.045],[24.84,0.057],[24.85,0.005],
[24.87,-0.034],[24.88,0.032],[24.90,-0.067],[24.91,0.015],[24.93,0.048],[24.94,-0.019],[24.96,0.024],[24.97,-0.053],[24.99,0.038],[25.00,-0.007],
[25.02,0.020],[25.03,-0.038],[25.05,-0.092],[25.06,0.011],[25.08,-0.027],[25.10,0.030],[25.12,-0.049]];
const seg11b = [[22.765,0.001],[22.801,0.037],[22.837,-0.030],[22.873,0.015],[22.909,0.052],[22.945,-0.011],[22.981,0.024],[23.017,-0.045],[23.053,0.033],[23.089,0.006],
[23.125,0.061],[23.161,-0.020],[23.197,0.028],[23.233,-0.035],[23.269,0.011],[23.305,0.046],[23.341,-0.005],[23.377,0.021],[23.413,-0.051],[23.449,0.039],
[23.485,0.009],[23.521,0.068],[23.557,-0.027],[23.593,0.017],[23.629,0.043],[23.665,-0.013],[23.701,0.030],[23.737,-0.041],[23.773,0.056],[23.809,0.004],
[23.845,0.026],[23.881,-0.032],[23.917,0.037],[23.953,0.012],[23.989,-0.019],[24.025,0.058],[24.061,-0.003],[24.097,0.022],[24.133,-0.055],[24.169,0.035],
[24.205,0.014],[24.241,0.064],[24.277,-0.016],[24.313,0.029],[24.349,-0.038],[24.385,0.047],[24.421,0.003],[24.457,0.025],[24.493,-0.028],[24.529,0.040],
[24.565,0.008],[24.601,-0.046],[24.637,0.031],[24.673,0.017],[24.709,-0.012],[24.745,0.051],[24.781,-0.034],[24.817,0.010],[24.853,0.038],[24.889,-0.021],
[24.925,0.026],[24.961,-0.041],[24.997,0.006],[25.033,0.033],[25.069,-0.016],[25.105,0.019]];

// ---- tick labels ----
const xTickLabels = [2,4,6,8,10,12,14,16,18,20,22,24];
const yTickLabels = [0.10,0.05,0.00,-0.05,-0.10,-0.15,-0.20,-0.25,-0.30];
const xDomainEnds = [0.365, 24.75];
const yDomainEnds = [-0.3315, 0.1474];

// ---- layout / style ----
const X_MIN = -0.4839, X_MAX = 25.7833;
const Y_MIN = -0.36542, Y_MAX = 0.15278;
const TEXT = '#c3d7d6';
const TICK = '#9fb9b8';
const DOT = '#e2f4f2';
const FONT = "'DejaVu Sans', sans-serif";

const all = [seg1,seg1b,dip1,seg2,seg2b,dip2,seg3,seg3b,dip3,seg4,seg4b,dip4,seg5,seg5b,dip5,seg6,seg6b,lone,
  seg7,seg7b,dip6,seg8,seg8b,dip7,seg9,seg9b,dip8,seg10,seg10b,dip9,seg11,seg11b];
const points = all.flat().map(p => ({x: p[0], y: p[1]}));

const labelsPlugin = {
  id: 'axisNames',
  afterDraw(chart) {
    const ctx = chart.ctx;
    ctx.save();
    ctx.fillStyle = TEXT;
    ctx.font = "14px " + FONT;
    ctx.textBaseline = 'middle';
    ctx.textAlign = 'left';
    ctx.fillText('Brightness', 25, 18);
    ctx.fillText('Days', 895, 491);
    ctx.restore();
  }
};

new Chart(document.getElementById('c'), {
  type: 'scatter',
  data: { datasets: [{ data: points, backgroundColor: DOT, borderWidth: 0, pointRadius: 2.3, pointHoverRadius: 2.3, clip: false }] },
  options: {
    responsive: true, maintainAspectRatio: false, animation: false,
    layout: { padding: { top: 30, left: 0, right: 0, bottom: 0 } },
    plugins: { legend: { display: false }, tooltip: { enabled: false } },
    events: [],
    scales: {
      x: {
        type: 'linear', position: 'bottom', min: X_MIN, max: X_MAX,
        afterBuildTicks(s) { s.ticks = [xDomainEnds[0], ...xTickLabels, xDomainEnds[1]].map(v => ({value: v})); },
        afterFit(s) { s.height = 6; s.paddingLeft = 0; s.paddingRight = 0; },
        grid: { drawOnChartArea: false, drawTicks: true, tickLength: 6, color: TICK, lineWidth: 1 },
        border: { display: false },
        ticks: { mirror: true, padding: 1, autoSkip: false, maxRotation: 0, color: TEXT, font: { family: FONT, size: 11.5 },
          callback: v => xTickLabels.includes(v) ? String(v) : '' }
      },
      y: {
        type: 'linear', position: 'left', min: Y_MIN, max: Y_MAX,
        afterBuildTicks(s) { s.ticks = [yDomainEnds[0], ...yTickLabels.slice().reverse(), yDomainEnds[1]].map(v => ({value: v})); },
        afterFit(s) { s.width = 8; s.paddingTop = 0; s.paddingBottom = 0; },
        grid: { drawOnChartArea: false, drawTicks: true, tickLength: 8, color: TICK, lineWidth: 1 },
        border: { display: false },
        ticks: { mirror: true, padding: 2, autoSkip: false, color: TEXT, font: { family: FONT, size: 11.5 },
          callback: v => yTickLabels.includes(v) ? v.toFixed(2) : '' }
      }
    }
  },
  plugins: [labelsPlugin]
});
</script>
</body></html>
